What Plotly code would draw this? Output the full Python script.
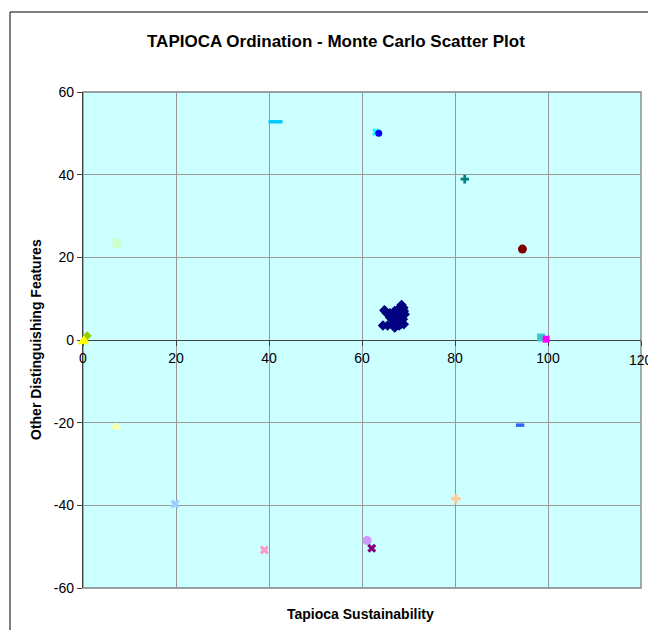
import plotly.graph_objects as go

# Monte Carlo cluster (main sample)
cluster_x = [65.0, 66.0, 64.5, 65.5, 67.0, 68.0, 68.5, 69.0, 68.0, 67.5, 66.5, 68.2,
             69.2, 67.0, 66.0, 67.8, 68.8, 66.7, 65.3, 68.5, 67.3, 69.0, 66.2, 67.6,
             68.9, 64.8, 68.3, 67.2]
cluster_y = [7.0, 6.5, 3.5, 3.5, 3.0, 3.5, 8.5, 7.0, 6.0, 5.5, 5.0, 4.5,
             6.2, 7.0, 5.5, 7.5, 5.0, 4.0, 6.5, 4.0, 6.3, 3.8, 6.0, 4.8,
             7.8, 7.2, 5.2, 3.2]

# Individual ordination points
pt_names = ["A", "B", "C", "D", "E", "F", "G", "H", "I", "J",
            "K", "L", "M", "N", "O", "P", "Q", "R"]
pt_x = [41.4, 63.0, 63.6, 82.1, 94.5, 7.3, 0.9, 0.0, 98.5, 99.6,
        7.1, 19.8, 39.0, 61.1, 62.1, 80.2, 94.0, 0.2]
pt_y = [52.8, 50.3, 50.0, 38.9, 22.0, 23.4, 1.0, -0.4, 0.6, 0.2,
        -21.0, -39.7, -50.8, -48.5, -50.4, -38.4, -20.6, 0.0]
pt_colors = ["#00CCFF", "#00FFFF", "#0000FF", "#008080", "#800000", "#CCFFCC",
             "#99CC00", "#FFFF00", "#33CCCC", "#FF00FF", "#FFFF99", "#99CCFF",
             "#FF99CC", "#CC99FF", "#800080", "#FFCC99", "#3366FF", "#FFFF00"]
pt_symbols = ["line-ew", "x", "circle", "cross", "circle", "square",
              "diamond", "triangle-up", "square", "square", "triangle-up", "x",
              "x", "circle", "x", "cross", "line-ew", "triangle-up"]
pt_sizes = [10, 7, 7, 7, 9, 9, 7, 10, 8, 7, 9, 8, 8, 9, 8, 8, 6, 9]

x_ticks = [0, 20, 40, 60, 80, 100, 120]
y_ticks = [-60, -40, -20, 0, 20, 40, 60]

fig = go.Figure()

fig.add_trace(go.Scatter(
    x=cluster_x, y=cluster_y, mode="markers",
    marker=dict(symbol="diamond", size=8, color="#000080"),
    showlegend=False, cliponaxis=False,
))

for n, x, y, c, s, z in zip(pt_names, pt_x, pt_y, pt_colors, pt_symbols, pt_sizes):
    if s == "line-ew":
        marker = dict(symbol=s, size=z, color=c, line=dict(color=c, width=3.5))
    else:
        marker = dict(symbol=s, size=z, color=c, line=dict(width=0))
    fig.add_trace(go.Scatter(x=[x], y=[y], mode="markers", name=n,
                             marker=marker, showlegend=False, cliponaxis=False))

font_family = "Liberation Sans, Arial"
axis_font = dict(family=font_family, size=14, color="#000000")

# x tick labels: the last one is written as an annotation so it can run off the page
x_labels = [str(v) if v < 120 else "" for v in x_ticks]

fig.update_layout(
    width=648, height=630,
    margin=dict(l=83, r=7, t=92, b=42),
    paper_bgcolor="#FFFFFF",
    plot_bgcolor="#CCFFFF",
    font=dict(family=font_family, color="#000000"),
    xaxis=dict(
        range=[0, 120], tickvals=x_ticks, ticktext=x_labels,
        showgrid=True, gridcolor="#999999", gridwidth=1.3,
        zeroline=False, showline=True, linecolor="#404040", linewidth=1.3,
        ticks="outside", ticklen=5, tickcolor="#404040",
        anchor="free", position=0.5, tickfont=axis_font,
        layer="below traces",
    ),
    yaxis=dict(
        range=[-60, 60], tickvals=y_ticks, ticktext=[str(v) for v in y_ticks],
        showgrid=True, gridcolor="#999999", gridwidth=1.3,
        zeroline=False, showline=True, linecolor="#404040", linewidth=1.3,
        ticks="outside", ticklen=5, tickcolor="#404040",
        tickfont=axis_font, layer="below traces",
    ),
    shapes=[
        # plot area frame
        dict(type="rect", xref="paper", yref="paper", x0=0, y0=0, x1=1, y1=1,
             line=dict(color="#808080", width=1.3), layer="below"),
        # chart area border
        dict(type="rect", xref="paper", yref="paper",
             x0=-0.1308, y0=-0.3, x1=1.2, y1=1.1613,
             line=dict(color="#000000", width=1)),
    ],
    annotations=[
        dict(text="<b>TAPIOCA Ordination - Monte Carlo Scatter Plot</b>",
             xref="paper", yref="paper", x=(336 - 83) / 558, y=1 + (92 - 41) / 496,
             showarrow=False, xanchor="center", yanchor="middle",
             font=dict(size=17, family=font_family)),
        dict(text="<b>Tapioca Sustainability</b>",
             xref="paper", yref="paper", x=(360 - 83) / 558, y=-(614 - 588) / 496,
             showarrow=False, xanchor="center", yanchor="middle",
             font=dict(size=14, family=font_family)),
        dict(text="<b>Other Distinguishing Features</b>",
             xref="paper", yref="paper", x=-(83 - 36) / 558, y=0.5, textangle=-90,
             showarrow=False, xanchor="center", yanchor="middle",
             font=dict(size=14, family=font_family)),
        dict(text=str(x_ticks[-1]), xref="x", yref="paper", x=x_ticks[-1],
             y=0.5 - (360 - 340) / 496, showarrow=False,
             xanchor="center", yanchor="middle", font=axis_font),
    ],
)

fig.write_html("out.html")
